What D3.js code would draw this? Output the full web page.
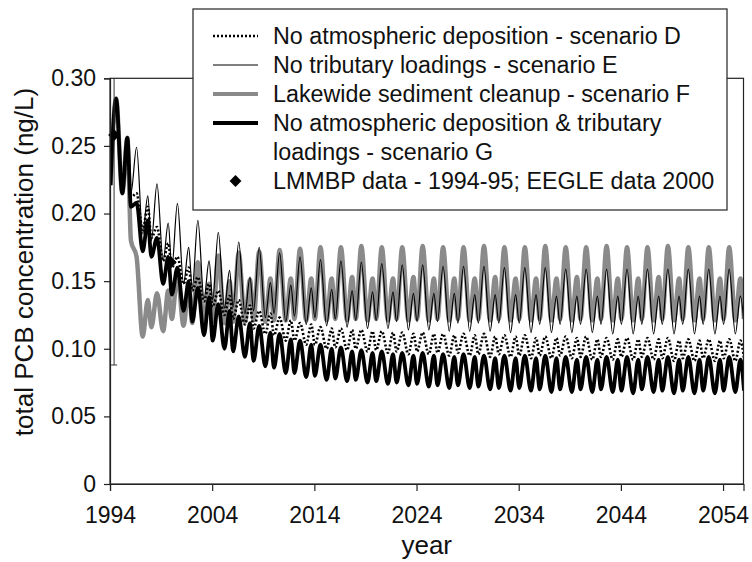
<!DOCTYPE html>
<html>
<head>
<meta charset="utf-8">
<script src="https://cdn.jsdelivr.net/npm/d3@7"></script>
<style>
  html, body { margin: 0; padding: 0; background: #fff; }
  svg { display: block; font-family: "Liberation Sans", Arial, sans-serif; }
</style>
</head>
<body>
<svg id="chart" width="752" height="562"></svg>
<script>
// ---------- data ----------
// Each model series is a repeating 2-year cycle; values are listed per cycle as
// [trough before main peak, main peak, trough, secondary peak].
const cycleYears = [1994, 1996, 1998, 2000, 2002, 2004, 2006, 2008, 2010, 2012, 2014,
  2016, 2018, 2020, 2022, 2024, 2026, 2028, 2030, 2032, 2034, 2036, 2038, 2040, 2042,
  2044, 2046, 2048, 2050, 2052, 2054, 2056];
const cyclePhases = [0.05, 0.6, 1.2, 1.7];

const scenarioD = [
  0.221, 0.285, 0.215, 0.256,
  0.212, 0.215, 0.188, 0.205,
  0.182, 0.190, 0.165, 0.178,
  0.160, 0.168, 0.148, 0.160,
  0.143, 0.153, 0.135, 0.148,
  0.131, 0.143, 0.125, 0.139,
  0.122, 0.136, 0.118, 0.132,
  0.115, 0.128, 0.111, 0.126,
  0.110, 0.123, 0.106, 0.121,
  0.106, 0.119, 0.103, 0.118,
  0.103, 0.116, 0.100, 0.115,
  0.101, 0.115, 0.099, 0.114,
  0.100, 0.114, 0.098, 0.113,
  0.099, 0.113, 0.097, 0.112,
  0.098, 0.112, 0.096, 0.111,
  0.098, 0.112, 0.096, 0.111,
  0.097, 0.111, 0.095, 0.110,
  0.097, 0.111, 0.095, 0.110,
  0.096, 0.111, 0.094, 0.109,
  0.096, 0.110, 0.094, 0.109,
  0.095, 0.110, 0.093, 0.108,
  0.095, 0.109, 0.093, 0.108,
  0.095, 0.109, 0.093, 0.108,
  0.094, 0.109, 0.092, 0.107,
  0.094, 0.108, 0.092, 0.107,
  0.094, 0.108, 0.092, 0.107,
  0.094, 0.108, 0.092, 0.107,
  0.093, 0.108, 0.091, 0.106,
  0.093, 0.107, 0.091, 0.106,
  0.093, 0.107, 0.091, 0.106,
  0.093, 0.107, 0.091, 0.106,
  0.093
];

const scenarioE = [
  0.221, 0.285, 0.215, 0.256,
  0.215, 0.249, 0.185, 0.213,
  0.180, 0.222, 0.165, 0.193,
  0.160, 0.2075, 0.148, 0.175,
  0.145, 0.195, 0.137, 0.165,
  0.136, 0.186, 0.130, 0.158,
  0.131, 0.179, 0.126, 0.153,
  0.128, 0.175, 0.123, 0.149,
  0.126, 0.171, 0.120, 0.147,
  0.124, 0.168, 0.118, 0.145,
  0.123, 0.166, 0.117, 0.144,
  0.122, 0.165, 0.116, 0.143,
  0.121, 0.164, 0.115, 0.142,
  0.121, 0.163, 0.115, 0.142,
  0.120, 0.162, 0.114, 0.141,
  0.120, 0.162, 0.114, 0.141,
  0.120, 0.161, 0.113, 0.141,
  0.119, 0.161, 0.113, 0.140,
  0.119, 0.161, 0.113, 0.140,
  0.119, 0.160, 0.112, 0.140,
  0.119, 0.160, 0.112, 0.140,
  0.118, 0.160, 0.112, 0.139,
  0.118, 0.159, 0.112, 0.139,
  0.118, 0.159, 0.112, 0.139,
  0.118, 0.159, 0.111, 0.139,
  0.118, 0.159, 0.111, 0.139,
  0.118, 0.159, 0.111, 0.139,
  0.118, 0.159, 0.111, 0.139,
  0.118, 0.159, 0.111, 0.139,
  0.118, 0.159, 0.111, 0.139,
  0.118, 0.159, 0.111, 0.139,
  0.118
];

const scenarioF = [
  0.221, 0.285, 0.215, 0.256,
  0.180, 0.168, 0.109, 0.136,
  0.116, 0.141, 0.113, 0.143,
  0.122, 0.155, 0.117, 0.146,
  0.119, 0.164, 0.118, 0.148,
  0.120, 0.169, 0.119, 0.150,
  0.120, 0.171, 0.120, 0.151,
  0.121, 0.172, 0.120, 0.152,
  0.121, 0.173, 0.121, 0.152,
  0.122, 0.174, 0.121, 0.152,
  0.122, 0.175, 0.121, 0.152,
  0.122, 0.175, 0.121, 0.153,
  0.122, 0.176, 0.121, 0.152,
  0.122, 0.175, 0.121, 0.152,
  0.122, 0.175, 0.121, 0.153,
  0.122, 0.176, 0.121, 0.152,
  0.122, 0.175, 0.121, 0.152,
  0.122, 0.175, 0.121, 0.152,
  0.122, 0.176, 0.121, 0.153,
  0.122, 0.175, 0.121, 0.152,
  0.122, 0.175, 0.121, 0.152,
  0.122, 0.176, 0.121, 0.152,
  0.122, 0.175, 0.121, 0.153,
  0.122, 0.175, 0.121, 0.152,
  0.122, 0.176, 0.121, 0.152,
  0.122, 0.175, 0.121, 0.152,
  0.122, 0.175, 0.121, 0.153,
  0.122, 0.176, 0.121, 0.152,
  0.122, 0.175, 0.121, 0.152,
  0.122, 0.175, 0.121, 0.152,
  0.122, 0.175, 0.121, 0.152,
  0.122
];

const scenarioG = [
  0.221, 0.285, 0.215, 0.256,
  0.205, 0.208, 0.172, 0.195,
  0.168, 0.182, 0.148, 0.168,
  0.140, 0.160, 0.128, 0.150,
  0.120, 0.145, 0.110, 0.138,
  0.106, 0.133, 0.100, 0.128,
  0.098, 0.124, 0.094, 0.119,
  0.091, 0.117, 0.087, 0.112,
  0.086, 0.111, 0.082, 0.107,
  0.082, 0.106, 0.079, 0.103,
  0.080, 0.103, 0.077, 0.100,
  0.078, 0.101, 0.076, 0.098,
  0.077, 0.099, 0.075, 0.097,
  0.076, 0.098, 0.074, 0.096,
  0.075, 0.097, 0.073, 0.095,
  0.074, 0.097, 0.072, 0.095,
  0.073, 0.096, 0.071, 0.094,
  0.073, 0.096, 0.071, 0.094,
  0.072, 0.095, 0.070, 0.093,
  0.071, 0.095, 0.069, 0.093,
  0.071, 0.095, 0.069, 0.093,
  0.070, 0.095, 0.068, 0.093,
  0.070, 0.094, 0.068, 0.092,
  0.070, 0.094, 0.068, 0.092,
  0.070, 0.094, 0.068, 0.092,
  0.069, 0.094, 0.067, 0.092,
  0.070, 0.094, 0.068, 0.092,
  0.069, 0.094, 0.067, 0.092,
  0.069, 0.094, 0.067, 0.092,
  0.069, 0.094, 0.067, 0.092,
  0.069, 0.094, 0.068, 0.092,
  0.069
];

// observations
const obsYears = [1994.4, 1999.95];
const obsValues = [0.258, 0.164];
const obsErrLow = [0.088, null];
const obsErrHigh = [0.428, null];

// axes
const xDomain = [1994, 2056];
const yDomain = [0, 0.30];
const xTicks = [1994, 2004, 2014, 2024, 2034, 2044, 2054];
const yTicks = [0, 0.05, 0.10, 0.15, 0.20, 0.25, 0.30];
const yTickLabels = ["0", "0.05", "0.10", "0.15", "0.20", "0.25", "0.30"];
const xTitle = "year";
const yTitle = "total PCB concentration (ng/L)";

const legendLabels = [
  ["No atmospheric deposition - scenario D"],
  ["No tributary loadings - scenario E"],
  ["Lakewide sediment cleanup - scenario F"],
  ["No atmospheric deposition & tributary", "loadings - scenario G"],
  ["LMMBP data - 1994-95; EEGLE data 2000"]
];

// ---------- drawing ----------
const svg = d3.select("#chart");
const plot = {left: 110, right: 743.5, top: 78.3, bottom: 484};

const x = d3.scaleLinear().domain(xDomain).range([plot.left, plot.right]);
const y = d3.scaleLinear().domain(yDomain).range([plot.bottom, plot.top]);

const styles = {
  D: {stroke: "#000", width: 2.6, dash: "2,2"},
  E: {stroke: "#000", width: 1.2, dash: null},
  F: {stroke: "#8a8a8a", width: 4.5, dash: null},
  G: {stroke: "#000", width: 3.8, dash: null}
};

function toPoints(values) {
  return values.map((v, i) => ({
    t: cycleYears[Math.floor(i / 4)] + cyclePhases[i % 4],
    v: v
  }));
}

svg.append("defs").append("clipPath").attr("id", "clip")
  .append("rect")
  .attr("x", plot.left).attr("y", plot.top)
  .attr("width", plot.right - plot.left).attr("height", plot.bottom - plot.top);

const line = d3.line()
  .x(d => x(d.t))
  .y(d => y(d.v))
  .curve(d3.curveMonotoneX);

const series = [
  {key: "F", values: scenarioF},
  {key: "G", values: scenarioG},
  {key: "D", values: scenarioD},
  {key: "E", values: scenarioE}
];

const gLines = svg.append("g").attr("clip-path", "url(#clip)");
series.forEach(s => {
  const st = styles[s.key];
  gLines.append("path")
    .datum(toPoints(s.values))
    .attr("d", line)
    .attr("fill", "none")
    .attr("stroke", st.stroke)
    .attr("stroke-width", st.width)
    .attr("stroke-dasharray", st.dash)
    .attr("stroke-linejoin", "round");
});

// observations with error bar
const obs = obsYears.map((t, i) => ({t, v: obsValues[i], lo: obsErrLow[i], hi: obsErrHigh[i]}));
const gErr = svg.append("g").attr("clip-path", "url(#clip)");
obs.filter(d => d.lo !== null).forEach(d => {
  gErr.append("line")
    .attr("x1", x(d.t)).attr("x2", x(d.t))
    .attr("y1", y(d.lo)).attr("y2", y(d.hi))
    .attr("stroke", "#333").attr("stroke-width", 1);
  gErr.append("line")
    .attr("x1", x(d.t) - 3).attr("x2", x(d.t) + 3)
    .attr("y1", y(d.lo)).attr("y2", y(d.lo))
    .attr("stroke", "#333").attr("stroke-width", 1);
});

// frame
svg.append("rect")
  .attr("x", plot.left).attr("y", plot.top)
  .attr("width", plot.right - plot.left).attr("height", plot.bottom - plot.top)
  .attr("fill", "none").attr("stroke", "#222").attr("stroke-width", 1.2);

const diamond = d3.symbol().type(d3.symbolDiamond2).size(90);
svg.append("g").selectAll("path.obs").data(obs).join("path")
  .attr("class", "obs")
  .attr("d", diamond)
  .attr("transform", d => `translate(${x(d.t)},${y(d.v)})`)
  .attr("fill", "#000");

// axes
const xAxis = d3.axisBottom(x).tickValues(xTicks).tickFormat(d3.format("d")).tickSize(7).tickPadding(16);
const yAxis = d3.axisLeft(y).tickValues(yTicks).tickFormat((d, i) => yTickLabels[i]).tickSize(6).tickPadding(8);

const gx = svg.append("g").attr("transform", `translate(0,${plot.bottom})`).call(xAxis);
const gy = svg.append("g").attr("transform", `translate(${plot.left},0)`).call(yAxis);
[gx, gy].forEach(g => {
  g.select(".domain").attr("stroke", "#222").attr("stroke-width", 1.2);
  g.selectAll(".tick line").attr("stroke", "#222").attr("stroke-width", 1.2);
  g.selectAll(".tick text").attr("fill", "#111")
    .style("font-size", "23px").style("font-family", "'Liberation Sans', Arial, sans-serif");
});

// axis titles
svg.append("text")
  .attr("x", (plot.left + plot.right) / 2).attr("y", 554)
  .attr("text-anchor", "middle")
  .style("font-size", "26px").attr("fill", "#111")
  .text(xTitle);
svg.append("text")
  .attr("transform", `translate(33,262) rotate(-90)`)
  .attr("text-anchor", "middle")
  .style("font-size", "26px").attr("fill", "#111")
  .text(yTitle);

// legend
const leg = svg.append("g");
leg.append("rect")
  .attr("x", 193).attr("y", 9).attr("width", 534).attr("height", 201)
  .attr("fill", "#fff").attr("stroke", "#222").attr("stroke-width", 1.2);

const legKeys = ["D", "E", "F", "G", "obs"];
const rowY = [36, 65, 94, 123, 181];
const symX0 = 213, symX1 = 258, textX = 273;
legKeys.forEach((k, i) => {
  const yy = rowY[i];
  if (k === "obs") {
    leg.append("path").attr("d", diamond)
      .attr("transform", `translate(${(symX0 + symX1) / 2},${yy})`)
      .attr("fill", "#000");
  } else {
    const st = styles[k];
    leg.append("line")
      .attr("x1", symX0).attr("x2", symX1).attr("y1", yy).attr("y2", yy)
      .attr("stroke", st.stroke)
      .attr("stroke-width", k === "E" ? 1.1 : (k === "D" ? 2.6 : 4))
      .attr("stroke-dasharray", st.dash);
  }
  legendLabels[i].forEach((txt, j) => {
    leg.append("text")
      .attr("x", textX).attr("y", yy + j * 29)
      .attr("dy", "0.36em")
      .style("font-size", "23.3px").attr("fill", "#111")
      .text(txt);
  });
});
</script>
</body>
</html>
